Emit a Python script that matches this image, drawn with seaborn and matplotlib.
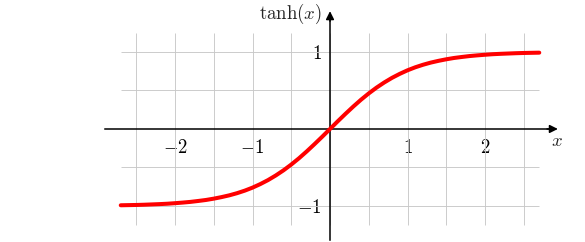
import matplotlib
matplotlib.use("Agg")
import matplotlib.pyplot as plt
import seaborn as sns
import pandas as pd

# curve values
x_vals = [-2.7, -2.6, -2.5, -2.4, -2.3, -2.2, -2.1, -2.0, -1.9, -1.8, -1.7, -1.6, -1.5, -1.4,
          -1.3, -1.2, -1.1, -1.0, -0.9, -0.8, -0.7, -0.6, -0.5, -0.4, -0.3, -0.2, -0.1, 0.0,
          0.1, 0.2, 0.3, 0.4, 0.5, 0.6, 0.7, 0.8, 0.9, 1.0, 1.1, 1.2, 1.3, 1.4, 1.5, 1.6,
          1.7, 1.8, 1.9, 2.0, 2.1, 2.2, 2.3, 2.4, 2.5, 2.6, 2.7]
y_vals = [-0.991, -0.989, -0.987, -0.984, -0.980, -0.976, -0.971, -0.964, -0.956, -0.947,
          -0.935, -0.922, -0.905, -0.885, -0.862, -0.834, -0.801, -0.762, -0.716, -0.664,
          -0.604, -0.537, -0.462, -0.380, -0.291, -0.197, -0.100, 0.000,
          0.100, 0.197, 0.291, 0.380, 0.462, 0.537, 0.604, 0.664, 0.716, 0.762, 0.801,
          0.834, 0.862, 0.885, 0.905, 0.922, 0.935, 0.947, 0.956, 0.964, 0.971, 0.976,
          0.980, 0.984, 0.987, 0.989, 0.991]

x_ticks = [-2, -1, 1, 2]
x_tick_labels = ["$-2$", "$-1$", "$1$", "$2$"]
y_ticks = [-1, 1]
y_tick_labels = ["$-1$", "$1$"]
grid_x = [-2.5, -2.0, -1.5, -1.0, -0.5, 0.0, 0.5, 1.0, 1.5, 2.0, 2.5]
grid_y = [-1.0, -0.5, 0.5, 1.0]
x_label = "$x$"
y_label = r"$\tanh(x)$"

sns.set_style("white")
plt.rcParams["mathtext.fontset"] = "cm"
plt.rcParams["font.family"] = ["DejaVu Serif"]

fig = plt.figure(figsize=(5.85, 2.42), dpi=100)
ax = fig.add_axes([0, 0, 1, 1])
ax.set_xlim(-4.258, 3.29)
ax.set_ylim(-1.468, 1.675)

# grid
ax.vlines(grid_x, -1.25, 1.25, colors="#c8c8c8", linewidth=0.65, zorder=1)
ax.hlines(grid_y, -2.7, 2.7, colors="#c8c8c8", linewidth=0.65, zorder=1)

df = pd.DataFrame({"x": x_vals, "y": y_vals})
sns.lineplot(data=df, x="x", y="y", ax=ax, color="#ff0000", linewidth=2.9,
             sort=False, zorder=3)
ax.set_xlabel("")
ax.set_ylabel("")

# axes through origin
for s in ["top", "right"]:
    ax.spines[s].set_visible(False)
ax.spines["left"].set_position(("data", 0))
ax.spines["bottom"].set_position(("data", 0))
ax.spines["bottom"].set_bounds(-2.9, 2.85)
ax.spines["left"].set_bounds(-1.44, 1.45)
for s in ["left", "bottom"]:
    ax.spines[s].set_linewidth(1.1)
    ax.spines[s].set_color("black")
    ax.spines[s].set_zorder(2)

ax.set_xticks(x_ticks)
ax.set_xticklabels(x_tick_labels)
ax.set_yticks(y_ticks)
ax.set_yticklabels(y_tick_labels)
ax.tick_params(axis="both", direction="inout", length=6, width=0.8,
               labelsize=13.5, colors="black")
ax.tick_params(axis="x", pad=4)
ax.tick_params(axis="y", pad=3)

# arrow heads
ax.annotate("", xy=(2.94, 0), xytext=(2.80, 0),
            arrowprops=dict(arrowstyle="-|>", color="black", lw=1.1,
                            mutation_scale=12, shrinkA=0, shrinkB=0))
ax.annotate("", xy=(0, 1.53), xytext=(0, 1.40),
            arrowprops=dict(arrowstyle="-|>", color="black", lw=1.1,
                            mutation_scale=12, shrinkA=0, shrinkB=0))

ax.text(2.93, -0.15, x_label, ha="center", va="center", fontsize=13.5)
ax.text(-0.1, 1.49, y_label, ha="right", va="center", fontsize=13.5)

fig.savefig("out.png", dpi=100)
